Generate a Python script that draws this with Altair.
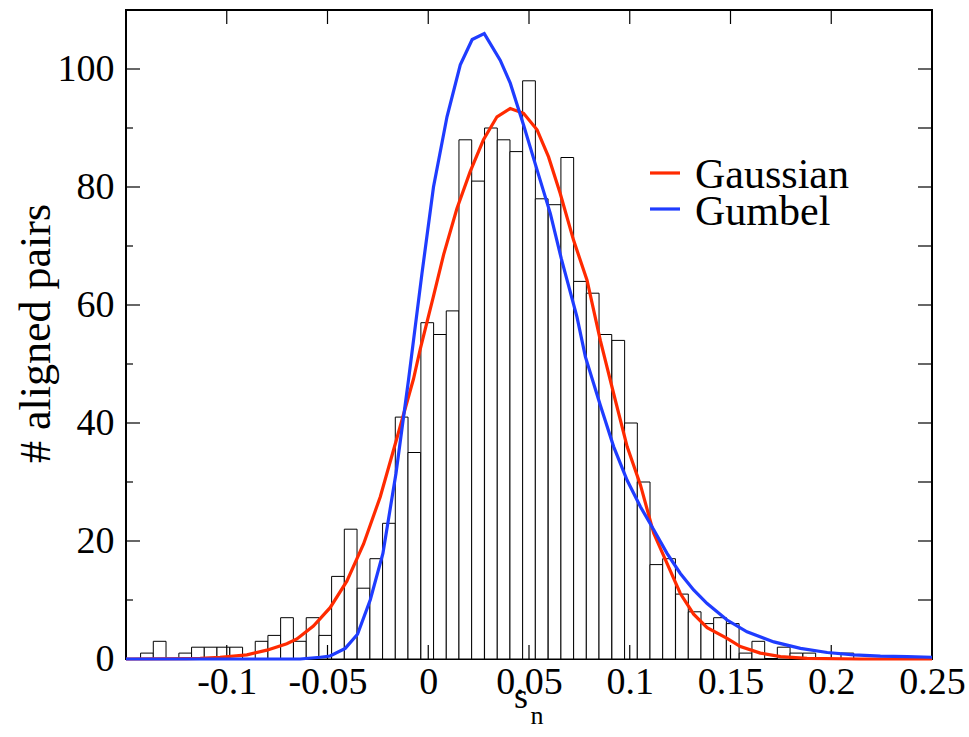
import altair as alt
import pandas as pd

# ---- histogram (bin centres and counts) ----
bin_centers = [-0.1396, -0.1333, -0.1270, -0.1206, -0.1143, -0.1080, -0.1017, -0.0953,
               -0.0890, -0.0827, -0.0764, -0.0701, -0.0637, -0.0574, -0.0511, -0.0448,
               -0.0385, -0.0321, -0.0258, -0.0195, -0.0132, -0.0069, -0.0005, 0.0058,
               0.0121, 0.0184, 0.0247, 0.0311, 0.0374, 0.0437, 0.0500, 0.0563,
               0.0627, 0.0690, 0.0753, 0.0816, 0.0879, 0.0943, 0.1006, 0.1069,
               0.1132, 0.1195, 0.1259, 0.1322, 0.1385, 0.1448, 0.1511, 0.1575,
               0.1638, 0.1701, 0.1764, 0.1827, 0.1891, 0.1954, 0.2017, 0.2080]
counts = [1, 3, 0, 1, 2, 2, 2, 2, 0, 3, 4, 7, 3, 7, 4, 14,
          22, 12, 17, 23, 41, 35, 57, 55, 59, 88, 81, 90, 88, 86, 98, 78,
          77, 85, 64, 62, 55, 54, 40, 30, 16, 17, 11, 8, 6, 7, 6, 1,
          3, 0, 2, 1, 1, 0, 0, 1]
BIN_WIDTH = 0.00632

# ---- fitted curves ----
gauss_x = [-0.15, -0.12, -0.1132, -0.1033, -0.0900, -0.0801, -0.0702, -0.0652, -0.0570,
           -0.0487, -0.0404, -0.0321, -0.0238, -0.0155, -0.0073, -0.0040, 0.0026,
           0.0076, 0.0142, 0.0208, 0.0274, 0.0341, 0.0407, 0.0473, 0.0540, 0.0597,
           0.0655, 0.0721, 0.0788, 0.0854, 0.0920, 0.0987, 0.1053, 0.1119, 0.1185,
           0.1251, 0.1317, 0.1384, 0.1483, 0.1549, 0.1648, 0.1748, 0.1880, 0.2145, 0.25]
gauss_y = [0.0, 0.05, 0.1, 0.3, 0.7, 1.5, 2.6, 3.4, 5.6,
           8.7, 13.2, 19.5, 27.5, 37.5, 47.5, 52.5, 61.5,
           68.5, 76.3, 82.6, 88.0, 91.9, 93.3, 92.5, 89.7, 85.1,
           78.9, 71.0, 64.2, 54.0, 45.0, 36.0, 29.5, 21.3, 16.2,
           11.1, 7.6, 5.3, 3.5, 2.1, 1.0, 0.4, 0.1, 0.0, 0.0]

gumbel_x = [-0.15, -0.0636, -0.0536, -0.0487, -0.0412, -0.0351, -0.0288, -0.0225,
            -0.0160, -0.0098, -0.0031, 0.0026, 0.0093, 0.0159, 0.0218, 0.0278,
            0.0357, 0.0407, 0.0473, 0.0540, 0.0606, 0.0660, 0.0738, 0.0780,
            0.0854, 0.0920, 0.0987, 0.1053, 0.1119, 0.1185, 0.1251, 0.1317,
            0.1384, 0.1483, 0.1582, 0.1715, 0.1847, 0.1980, 0.2112, 0.2244,
            0.2377, 0.25]
gumbel_y = [0.0, 0.0, 0.3, 0.5, 1.8, 4.2, 10.0, 17.9,
            31.5, 47.3, 65.4, 80.0, 91.9, 100.7, 105.0, 106.0,
            101.5, 97.6, 90.5, 82.9, 75.5, 67.9, 58.0, 51.2,
            43.0, 36.0, 30.3, 25.8, 21.9, 17.9, 14.5, 11.7,
            9.4, 6.6, 4.6, 2.9, 1.8, 1.1, 0.7, 0.5,
            0.4, 0.3]

x_label_values = [-0.1, -0.05, 0, 0.05, 0.1, 0.15, 0.2, 0.25]
x_tick_values = [-0.1, -0.05, 0, 0.05, 0.1, 0.15, 0.2]
y_label_values = [0, 20, 40, 60, 80, 100]
y_major_ticks = [20, 40, 60, 80, 100]
y_minor_ticks = [10, 30, 50, 70, 90]
y_right_ticks = [10, 20, 30, 40, 50, 60, 70, 80, 90, 100]

legend_names = ["Gaussian", "Gumbel"]
RED = "#ff2a00"
BLUE = "#1f3cff"
FONT = "Liberation Serif"

W, H = 806, 649
xs = alt.Scale(domain=[-0.15, 0.25], nice=False, zero=False)
ys = alt.Scale(domain=[0, 110], nice=False, zero=False)

hist = pd.DataFrame({"c": bin_centers, "n": counts})
hist = hist[hist["n"] > 0].copy()
hist["x0"] = hist["c"] - BIN_WIDTH / 2
hist["x1"] = hist["c"] + BIN_WIDTH / 2

bars = alt.Chart(hist).mark_rect(fill="white", stroke="black", strokeWidth=1).encode(
    x=alt.X("x0:Q", scale=xs, axis=alt.Axis(
        values=x_label_values, labelExpr="datum.value + ''", ticks=False, domain=False,
        grid=False, title=None, labelFont=FONT, labelFontSize=38, labelColor="black",
        labelPadding=4, labelFlush=False, labelOverlap=False)),
    x2="x1:Q",
    y=alt.Y("n:Q", scale=ys, axis=alt.Axis(
        values=y_label_values, ticks=False, domain=False, grid=False,
        title="# aligned pairs", titleFont=FONT, titleFontSize=44, titleFontWeight="normal",
        titleColor="black", titleAngle=-90, titleX=-90, titleY=323,
        titleAlign="center", titleBaseline="middle",
        labelFont=FONT, labelFontSize=38, labelColor="black", labelPadding=12,
        labelFlush=False, labelOverlap=False)),
    y2=alt.datum(0),
)

tx = pd.DataFrame({"v": x_tick_values})
bottom_ticks = alt.Chart(tx).mark_rule(color="black", strokeWidth=1.2).encode(
    x=alt.X("v:Q", scale=xs), y=alt.value(H), y2=alt.value(H - 14))
top_ticks = alt.Chart(tx).mark_rule(color="black", strokeWidth=1.2).encode(
    x=alt.X("v:Q", scale=xs), y=alt.value(0), y2=alt.value(14))
left_major = alt.Chart(pd.DataFrame({"v": y_major_ticks})).mark_rule(color="black", strokeWidth=1.2).encode(
    y=alt.Y("v:Q", scale=ys), x=alt.value(0), x2=alt.value(14))
left_minor = alt.Chart(pd.DataFrame({"v": y_minor_ticks})).mark_rule(color="black", strokeWidth=1.2).encode(
    y=alt.Y("v:Q", scale=ys), x=alt.value(0), x2=alt.value(7))
right_ticks = alt.Chart(pd.DataFrame({"v": y_right_ticks})).mark_rule(color="black", strokeWidth=1.2).encode(
    y=alt.Y("v:Q", scale=ys), x=alt.value(W - 14), x2=alt.value(W))

gauss = alt.Chart(pd.DataFrame({"x": gauss_x, "y": gauss_y})).mark_line(
    color=RED, strokeWidth=3.2, clip=False).encode(
    x=alt.X("x:Q", scale=xs), y=alt.Y("y:Q", scale=ys), order="x:Q")
gumbel = alt.Chart(pd.DataFrame({"x": gumbel_x, "y": gumbel_y})).mark_line(
    color=BLUE, strokeWidth=3.2, clip=False).encode(
    x=alt.X("x:Q", scale=xs), y=alt.Y("y:Q", scale=ys), order="x:Q")

# legend
leg_g_line = alt.Chart(pd.DataFrame({"k": [legend_names[0]]})).mark_rule(color=RED, strokeWidth=3.2).encode(
    x=alt.value(524), x2=alt.value(554), y=alt.value(163))
leg_b_line = alt.Chart(pd.DataFrame({"k": [legend_names[1]]})).mark_rule(color=BLUE, strokeWidth=3.2).encode(
    x=alt.value(524), x2=alt.value(554), y=alt.value(199))
leg_g_text = alt.Chart(pd.DataFrame({"k": [legend_names[0]]})).mark_text(
    font=FONT, fontSize=42, align="left", baseline="middle", color="black").encode(
    x=alt.value(569), y=alt.value(165), text="k:N")
leg_b_text = alt.Chart(pd.DataFrame({"k": [legend_names[1]]})).mark_text(
    font=FONT, fontSize=42, align="left", baseline="middle", color="black").encode(
    x=alt.value(569), y=alt.value(202), text="k:N")

# x-axis title: s with subscript n
xt_s = alt.Chart(pd.DataFrame({"t": ["s"]})).mark_text(
    font=FONT, fontSize=36, align="center", baseline="alphabetic", color="black").encode(
    x=alt.value(395), y=alt.value(698), text="t:N")
xt_n = alt.Chart(pd.DataFrame({"t": ["n"]})).mark_text(
    font=FONT, fontSize=26, align="center", baseline="alphabetic", color="black").encode(
    x=alt.value(411), y=alt.value(714), text="t:N")

chart = alt.layer(
    bars, bottom_ticks, top_ticks, left_major, left_minor, right_ticks,
    gauss, gumbel, leg_g_line, leg_b_line, leg_g_text, leg_b_text, xt_s, xt_n
).properties(
    width=W, height=H,
    autosize=alt.AutoSizeParams(type="none"),
    padding={"left": 126, "top": 10, "right": 37, "bottom": 78},
    background="white",
).configure_view(stroke="black", strokeWidth=2)

chart.save("out.html", embed_options={"renderer": "svg", "actions": False})
